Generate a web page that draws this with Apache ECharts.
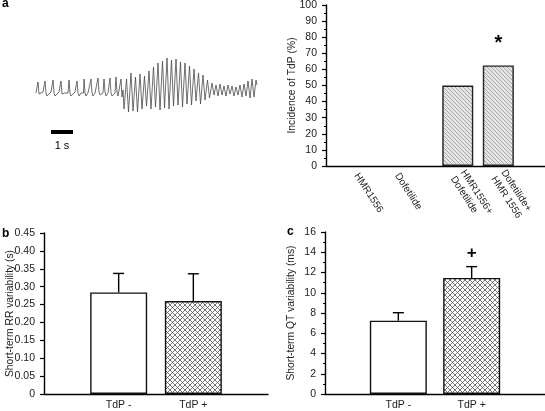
<!DOCTYPE html>
<html><head><meta charset="utf-8">
<script src="https://cdn.jsdelivr.net/npm/echarts@6/dist/echarts.min.js"></script>
<style>html,body{margin:0;padding:0;background:#fff}#c{width:545px;height:411px}</style>
</head><body><div id="c"></div>
<script>
// ---------- DATA ----------
// ECG trace: [time unit, amplitude]
const ecgTrace = [
 [0,0],[1,0],[2,11],[3,-1],[4,-3],[5,0],[7,1],
 [8,0],[9,12],[10,0],[11,-3],[13,-1],[15,1],
 [16,0],[17,13],[18,0],[19,-3],[21,-1],[23,1],
 [24,0],[25,12],[26,-1],[27,-3],[29,0],[31,1],
 [32,0],[33,13],[34,0],[35,-3],[37,-1],[39,1],
 [40,0],[41,12],[42,0],[43,-3],[45,0],[47,1],
 [47.5,0],[48,14],[49,0],[50,-3],[52,0],
 [54,0],[55,14],[56,0],[57,-3],[59,0],
 [61,0],[62,15],[63,1],[64,-2],[66,0],
 [67,0],[68,14],[69,1],[70,-3],[72,0],
 [73,0],[74,15],[75,0],[76,-3],[78,-1],
 [79,0],[80,16],[81,1],[82,-3],[84,-1],
 [85,14],[86,-4],
 [87,3],[88,-16],[90.5,14],[92.5,-19],[95,20],[97,-18],[99.5,16],[101.5,-19],
 [104,19],[106,-16],[108.5,17],[110.5,-13],[113,22],[115,-16],[117.5,26],[119.5,-14],
 [122,30],[124,-17],[126.5,32],[128.5,-15],[131,35],[133,-16],[135.5,33],[137.5,-13],
 [140,34],[142,-12],[144.5,31],[146.5,-14],[149,30],[151,-11],[153.5,27],[155.5,-12],
 [158,24],[160,-8],[162.5,20],[164.5,-11],[167,18],[169,-7],[171.5,13],[173.5,-5],
 [176,10],[178,-2],[180,8],[182,-3],[184,9],[186,-2],[188,7],[190,-3],[192,8],[194,-1],
 [196,7],[198,-3],[200,6],[202,-2],[204,8],[206,-4],[208,9],[210,-3],[212,12],[214,-5],
 [216,14],[218,-4],[220,13],[221,8]
];
const scaleBar = [[15,-39],[37,-39]];
const scaleBarLabel = '1 s';

const incidenceCategories = ['HMR1556', 'Dofetilide', 'HMR1556+\nDofetilide', 'Dofetilide+\nHMR 1556'];
const incidenceValues = [0, 0, 50, 62.5];
const incidenceMarks = ['', '', '', '*'];

const tdpGroups = ['TdP -', 'TdP +'];
const rrMean = [0.284, 0.260];
const rrErr = [0.053, 0.076];
const qtMean = [7.24, 11.46];
const qtErr = [0.79, 1.12];
const qtMarks = ['', '+'];

// ---------- LAYOUT (not data) ----------
const slotCountA = 11;
const slotPosA = [1, 3, 6, 8];
const FONT = 'Liberation Sans, Arial, Helvetica, sans-serif';

function pattern(bg, color, size, dirs, lw) {
  const c = document.createElement('canvas');
  c.width = c.height = size;
  const g = c.getContext('2d');
  g.fillStyle = bg; g.fillRect(0, 0, size, size);
  g.strokeStyle = color; g.lineWidth = lw;
  g.beginPath();
  for (const k of [-size, 0, size]) {
    if (dirs.includes('\\')) { g.moveTo(k, 0); g.lineTo(k + size, size); }
    if (dirs.includes('/')) { g.moveTo(k + size, 0); g.lineTo(k, size); }
  }
  g.stroke();
  return { image: c, repeat: 'repeat' };
}
const hatchA = pattern('#e4e4e4', '#9a9a9a', 4, '\\', 0.8);
const cross = pattern('#ffffff', '#555555', 5, '\\/', 0.8);

const slotsA = new Array(slotCountA).fill('');
const barDataA = new Array(slotCountA).fill('-');
slotPosA.forEach((p, i) => {
  slotsA[p] = incidenceCategories[i];
  barDataA[p] = { value: incidenceValues[i], mark: incidenceMarks[i],
    itemStyle: incidenceValues[i] === 0 ? { borderWidth: 0, opacity: 0 } : {} };
});

const padCats = ['', ...tdpGroups, ''];
function barItems(means, marks) {
  return ['-', ...means.map((v, i) => ({
    value: v, mark: marks ? marks[i] : '',
    itemStyle: { color: i === 0 ? '#ffffff' : cross }
  })), '-'];
}
function errItems(means, errs) {
  return means.map((m, i) => [i + 1, m, errs[i]]);
}
function errRender(params, api) {
  const x = api.value(0), m = api.value(1), e = api.value(2);
  const b = api.coord([x, m]);
  const t = api.coord([x, m + e]);
  const st = { stroke: '#000', lineWidth: 1.4, fill: null };
  return { type: 'group', children: [
    { type: 'line', shape: { x1: b[0], y1: b[1], x2: t[0], y2: t[1] }, style: st },
    { type: 'line', shape: { x1: t[0] - 5.5, y1: t[1], x2: t[0] + 5.5, y2: t[1] }, style: st }
  ]};
}

const axisLineStyle = { show: true, lineStyle: { color: '#000', width: 1.4 } };
const tickLabel = { color: '#222', fontSize: 10.5, fontFamily: FONT };
function valueY(grid, min, max, interval, name, fmt, minor) {
  return {
    gridIndex: grid, type: 'value', min: min, max: max, interval: interval,
    axisLine: axisLineStyle,
    axisTick: { show: true, length: 4, lineStyle: { color: '#000', width: 1.2 } },
    minorTick: { show: !!minor, splitNumber: 2, length: 2, lineStyle: { color: '#000', width: 1 } },
    splitLine: { show: false }, minorSplitLine: { show: false },
    axisLabel: Object.assign({ margin: 9, formatter: fmt }, tickLabel),
    name: name, nameLocation: 'middle', nameGap: 29, nameMoveOverlap: false,
    nameTextStyle: { color: '#222', fontSize: 10.3, fontFamily: FONT }
  };
}
function catX(grid, data, bg, labelOpt) {
  return {
    gridIndex: grid, type: 'category', data: data, boundaryGap: bg,
    axisLine: axisLineStyle, axisTick: { show: false },
    axisLabel: Object.assign({ interval: 0 }, tickLabel, labelOpt)
  };
}
const gridBase = { containLabel: false, outerBoundsMode: 'none' };

const option = {
  animation: false,
  backgroundColor: '#fff',
  textStyle: { fontFamily: FONT },
  grid: [
    Object.assign({ left: 36, top: 55, width: 221, height: 88 }, gridBase),
    Object.assign({ left: 326, top: 5, width: 223, height: 161 }, gridBase),
    Object.assign({ left: 44, top: 233, width: 224, height: 161 }, gridBase),
    Object.assign({ left: 325, top: 232, width: 220, height: 162 }, gridBase)
  ],
  xAxis: [
    { gridIndex: 0, type: 'value', min: 0, max: 221, show: false },
    catX(1, slotsA, true, { rotate: -57, margin: 8, fontSize: 10, lineHeight: 12 }),
    catX(2, padCats, false, { margin: 6 }),
    catX(3, padCats, false, { margin: 6 })
  ],
  yAxis: [
    { gridIndex: 0, type: 'value', min: -50, max: 38, show: false },
    valueY(1, 0, 100, 10, 'Incidence of TdP (%)', v => String(v), true),
    valueY(2, 0, 0.45, 0.05, 'Short-term RR variability (s)', v => v === 0 ? '0' : v.toFixed(2), false),
    valueY(3, 0, 16, 2, 'Short-term QT variability (ms)', v => String(v), true)
  ],
  series: [
    { type: 'line', xAxisIndex: 0, yAxisIndex: 0, data: ecgTrace, showSymbol: false, silent: true,
      lineStyle: { color: '#4a4a4a', width: 0.8 } },
    { type: 'line', xAxisIndex: 0, yAxisIndex: 0, data: scaleBar, showSymbol: false, silent: true,
      lineStyle: { color: '#000', width: 4, cap: 'butt' } },
    { type: 'bar', xAxisIndex: 1, yAxisIndex: 1, data: barDataA, barWidth: 31,
      itemStyle: { color: hatchA, borderColor: '#222', borderWidth: 1.4 },
      label: { show: true, position: 'top', distance: 12, formatter: p => (p.data && p.data.mark) || '',
        fontSize: 20, fontWeight: 'bold', color: '#000', fontFamily: FONT } },
    { type: 'bar', xAxisIndex: 2, yAxisIndex: 2, data: barItems(rrMean), barWidth: 57,
      itemStyle: { borderColor: '#111', borderWidth: 1.4 } },
    { type: 'custom', xAxisIndex: 2, yAxisIndex: 2, data: errItems(rrMean, rrErr), renderItem: errRender, z: 5 },
    { type: 'bar', xAxisIndex: 3, yAxisIndex: 3, data: barItems(qtMean, qtMarks), barWidth: 57,
      itemStyle: { borderColor: '#111', borderWidth: 1.4 },
      label: { show: true, position: 'top', distance: 16, formatter: p => (p.data && p.data.mark) || '',
        fontSize: 17, fontWeight: 'bold', color: '#000', fontFamily: FONT } },
    { type: 'custom', xAxisIndex: 3, yAxisIndex: 3, data: errItems(qtMean, qtErr), renderItem: errRender, z: 5 }
  ],
  graphic: [
    { type: 'text', left: 2, top: -2, style: { text: 'a', font: 'bold 12px ' + FONT, fill: '#000' } },
    { type: 'text', left: 2, top: 228, style: { text: 'b', font: 'bold 12px ' + FONT, fill: '#000' } },
    { type: 'text', left: 287, top: 226, style: { text: 'c', font: 'bold 12px ' + FONT, fill: '#000' } },
    { type: 'text', x: 62, y: 146, style: { text: scaleBarLabel, font: '11px ' + FONT, fill: '#000', align: 'center', verticalAlign: 'middle' } }
  ]
};
const chart = echarts.init(document.getElementById('c'), null, { renderer: 'canvas' });
chart.setOption(option);
</script></body></html>
